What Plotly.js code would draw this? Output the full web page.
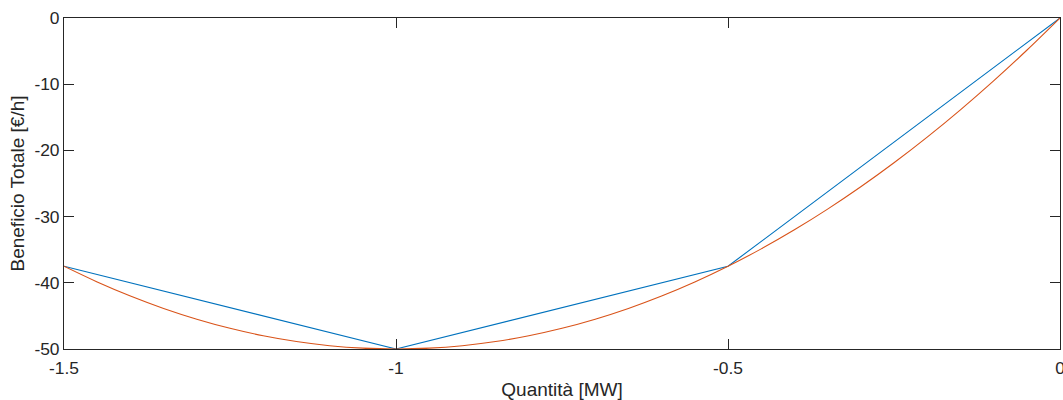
<!DOCTYPE html>
<html>
<head>
<meta charset="utf-8">
<script src="https://cdn.plot.ly/plotly-3.0.1.min.js"></script>
<style>html,body{margin:0;padding:0;background:#fff;}#chart{width:1063px;height:400px;}</style>
</head>
<body>
<div id="chart"></div>
<script>
// Piecewise-linear (blue) series
const blueX = [-1.5, -1, -0.5, 0];
const blueY = [-37.5, -50, -37.5, 0];

// Smooth curve (orange) series
const orangeX = [-1.5, -1.45, -1.4, -1.35, -1.3, -1.25, -1.2, -1.15, -1.1, -1.05, -1,
                 -0.95, -0.9, -0.85, -0.8, -0.75, -0.7, -0.65, -0.6, -0.55, -0.5,
                 -0.45, -0.4, -0.35, -0.3, -0.25, -0.2, -0.15, -0.1, -0.05, 0];
const orangeY = [-37.5, -39.875, -42, -43.875, -45.5, -46.875, -48, -48.875, -49.5, -49.875, -50,
                 -49.875, -49.5, -48.875, -48, -46.875, -45.5, -43.875, -42, -39.875, -37.5,
                 -34.875, -32, -28.875, -25.5, -21.875, -18, -13.875, -9.5, -4.875, 0];

// Tick labels
const xTickVals = [-1.5, -1, -0.5, 0];
const xTickText = ['-1.5', '-1', '-0.5', '0'];
const yTickVals = [-50, -40, -30, -20, -10, 0];
const yTickText = ['-50', '-40', '-30', '-20', '-10', '0'];

const xTitle = 'Quantità [MW]';
const yTitle = 'Beneficio Totale [€/h]';

const FONT = 'Liberation Sans, Arial, Helvetica, sans-serif';

const traces = [
  {x: blueX, y: blueY, mode: 'lines', line: {color: '#0072BD', width: 1.1}, hoverinfo: 'skip'},
  {x: orangeX, y: orangeY, mode: 'lines', line: {color: '#D95319', width: 1.1, shape: 'spline'}, hoverinfo: 'skip'}
];

const axisCommon = {
  showgrid: false, zeroline: false, showline: true, mirror: 'ticks',
  linecolor: '#262626', linewidth: 1,
  ticks: 'inside', ticklen: 10, tickwidth: 1, tickcolor: '#262626',
  ticklabeloverflow: 'allow',
  tickfont: {family: FONT, size: 17.4, color: '#262626'}
};

const layout = {
  width: 1063, height: 400,
  margin: {l: 64, r: 3, t: 18, b: 51},
  paper_bgcolor: '#fff', plot_bgcolor: '#fff',
  showlegend: false,
  font: {family: FONT},
  xaxis: Object.assign({}, axisCommon, {
    range: [-1.5, 0], tickmode: 'array', tickvals: xTickVals, ticktext: xTickText,
    ticklabelstandoff: 3,
    title: {text: xTitle, font: {family: FONT, size: 19, color: '#262626'}, standoff: 6}
  }),
  yaxis: Object.assign({}, axisCommon, {
    range: [-50, 0], tickmode: 'array', tickvals: yTickVals, ticktext: yTickText,
    title: {text: yTitle, font: {family: FONT, size: 19, color: '#262626'}, standoff: 4}
  })
};

Plotly.newPlot('chart', traces, layout, {displayModeBar: false, staticPlot: true});
</script>
</body>
</html>
